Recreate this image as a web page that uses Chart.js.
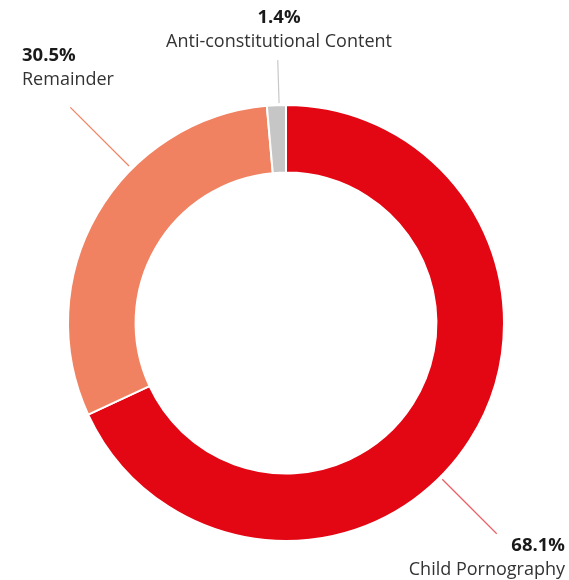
<!DOCTYPE html>
<html>
<head>
<meta charset="utf-8">
<script src="https://cdn.jsdelivr.net/npm/chart.js@4"></script>
<style>
  html, body { margin: 0; padding: 0; background: #fff; }
  #wrap { width: 569px; height: 580px; }
</style>
</head>
<body>
<div id="wrap"><canvas id="grafico"></canvas></div>
<script>
// dados do gráfico
const categorias = ['Child Pornography', 'Remainder', 'Anti-constitutional Content'];
const valores = [68.1, 30.5, 1.4];
const rotulos = ['68.1%', '30.5%', '1.4%'];
const cores = ['#e30613', '#f08262', '#c6c6c6'];
const coresLinha = ['#ec5f64', '#f08262', '#c8c8c8'];

// rótulos com linha de chamada (posição do texto, ângulo e raio da linha)
const chamadas = [
  { x: 565, y: 546, align: 'right', ang: 135, r0: 221, r1: 298 },
  { x: 22, y: 56, align: 'left', ang: 315, r0: 222, r1: 305 },
  { x: 279, y: 18, align: 'center', ang: 358.2, r0: 220, r1: 263 }
];

const pluginRotulos = {
  id: 'rotulos',
  afterDraw(chart) {
    const ctx = chart.ctx;
    const arco = chart.getDatasetMeta(0).data[0];
    const cx = arco.x, cy = arco.y;
    ctx.save();
    chamadas.forEach((c, i) => {
      const a = c.ang * Math.PI / 180;
      ctx.strokeStyle = coresLinha[i];
      ctx.lineWidth = 1.2;
      ctx.beginPath();
      ctx.moveTo(cx + Math.sin(a) * c.r0, cy - Math.cos(a) * c.r0);
      ctx.lineTo(cx + Math.sin(a) * c.r1, cy - Math.cos(a) * c.r1);
      ctx.stroke();

      ctx.textAlign = c.align;
      ctx.textBaseline = 'middle';
      ctx.fillStyle = '#1a1a1a';
      ctx.font = 'bold 18.5px "Open Sans"';
      ctx.fillText(rotulos[i], c.x, c.y);
      ctx.fillStyle = '#333333';
      ctx.font = '18px "Open Sans"';
      ctx.fillText(categorias[i], c.x, c.y + 24);
    });
    ctx.restore();
  }
};

const ctx = document.getElementById('grafico').getContext('2d');
const chart = new Chart(ctx, {
  type: 'doughnut',
  data: {
    labels: categorias,
    datasets: [{
      data: valores,
      backgroundColor: cores,
      borderColor: '#ffffff',
      borderWidth: 2,
      hoverOffset: 0
    }]
  },
  options: {
    responsive: true,
    maintainAspectRatio: false,
    animation: false,
    radius: 218,
    cutout: '69%',
    layout: { padding: { left: 3, right: 0, top: 66, bottom: 0 } },
    plugins: {
      legend: { display: false },
      tooltip: { enabled: false }
    }
  },
  plugins: [pluginRotulos]
});
</script>
</body>
</html>
